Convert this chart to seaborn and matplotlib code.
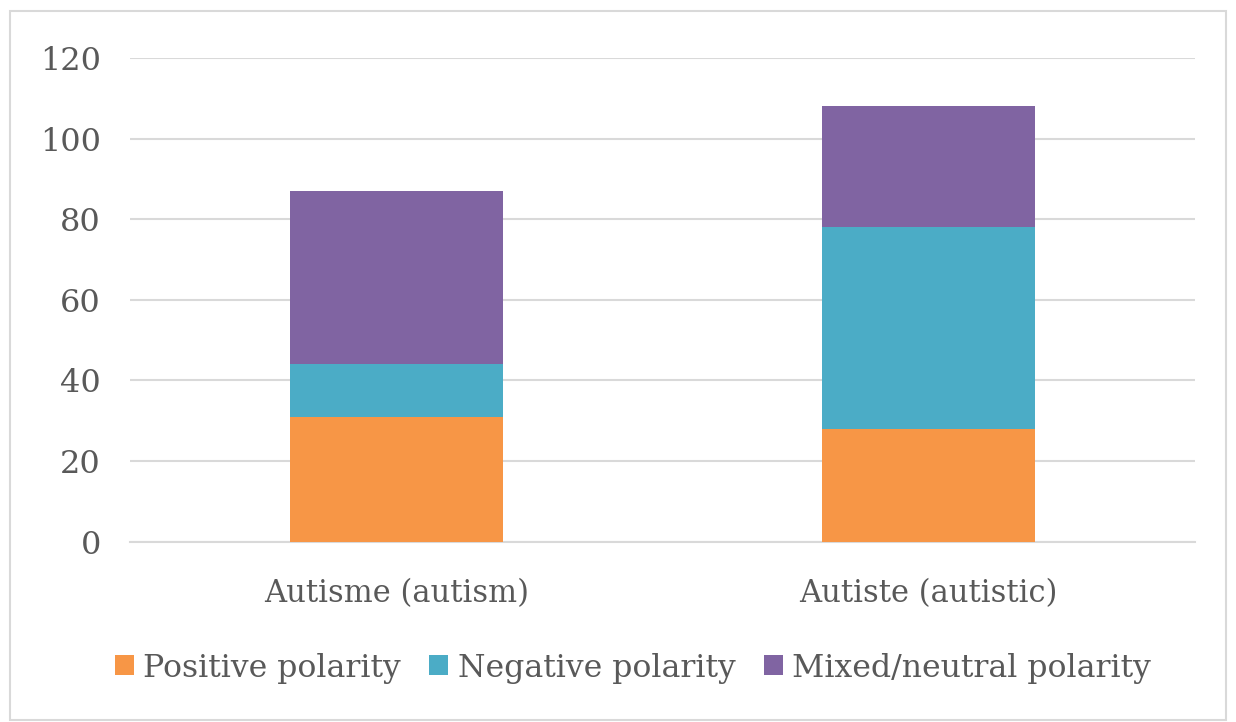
import pandas as pd
import seaborn as sns
import matplotlib.pyplot as plt
from matplotlib.patches import Rectangle, Patch


categories = ['Autisme (autism)', 'Autiste (autistic)']
positive = [31, 28]
negative = [13, 50]
mixed = [43, 30]

series_names = ['Positive polarity', 'Negative polarity', 'Mixed/neutral polarity']
colors = ['#F79646', '#4BACC6', '#8064A2']

sns.set_theme(style='white')
plt.rcParams['font.family'] = ['DejaVu Serif']

df = pd.DataFrame({'term': categories, 'pos': positive, 'neg': negative, 'mix': mixed})
# stacked bars: draw cumulative totals, tallest first
df['c1'] = df['pos']
df['c2'] = df['pos'] + df['neg']
df['c3'] = df['pos'] + df['neg'] + df['mix']

fig = plt.figure(figsize=(12.36, 7.22), dpi=100)
ax = fig.add_axes([0.1052, 0.25, 0.8616, 0.6697])

for col, color in zip(['c3', 'c2', 'c1'], colors[::-1]):
    sns.barplot(data=df, x='term', y=col, color=color, width=0.4,
                saturation=1, linewidth=0, ax=ax, zorder=3)

ax.set_ylim(0, 120)
ax.set_yticks(range(0, 121, 20))
ax.set_xlabel('')
ax.set_ylabel('')
ax.grid(axis='y', color='#D9D9D9', linewidth=1.5, zorder=0)
for s in ['top', 'right', 'left']:
    ax.spines[s].set_visible(False)
ax.spines['bottom'].set_color('#D9D9D9')
ax.spines['bottom'].set_linewidth(1.5)
ax.tick_params(axis='both', length=0, labelsize=22, colors='#595959')
ax.tick_params(axis='y', pad=21, labelsize=23)
ax.tick_params(axis='x', pad=26)

handles = [Patch(facecolor=c, edgecolor='none') for c in colors]
fig.legend(handles, series_names, loc='center', bbox_to_anchor=(0.512, 1 - 668 / 722),
           ncol=3, frameon=False, fontsize=22.7, handlelength=0.6, handleheight=0.6,
           handletextpad=0.3, columnspacing=0.9, labelcolor='#595959')

fig.patches.append(Rectangle((10 / 1236, 2 / 722), 1216 / 1236, 709 / 722,
                             transform=fig.transFigure, fill=False,
                             edgecolor='#D9D9D9', linewidth=1.5))

fig.savefig('out.png', dpi=100)
